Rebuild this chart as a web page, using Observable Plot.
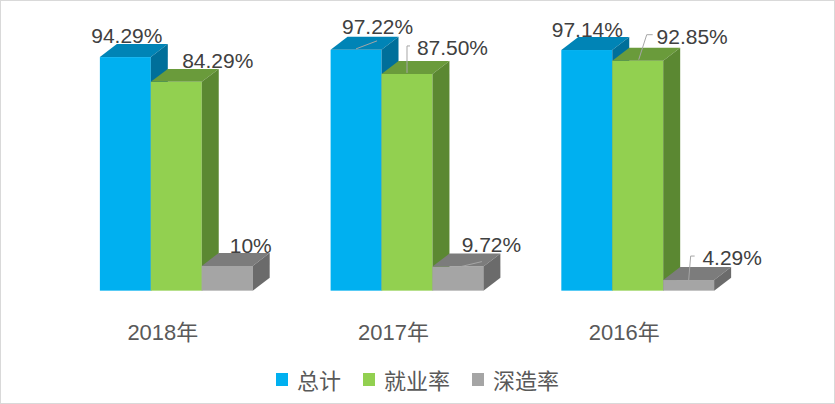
<!DOCTYPE html>
<html>
<head>
<meta charset="utf-8">
<script src="https://cdn.jsdelivr.net/npm/d3@7"></script>
<script src="https://cdn.jsdelivr.net/npm/@observablehq/plot@0.6"></script>
<style>
  html, body { margin: 0; padding: 0; background: #fff; }
  #frame { position: relative; width: 835px; height: 404px; box-sizing: border-box; border: 1px solid #d9d9d9; overflow: hidden; background: #fff; }
  #chart { position: absolute; left: -1px; top: -1px; }
  #legend { position: absolute; left: -1px; top: 365px; width: 835px; height: 26px; display: flex; justify-content: center; align-items: center; gap: 22px;
            font-family: "Noto Sans CJK SC", sans-serif; font-size: 22px; color: #595959; }
  #legend .item { display: flex; align-items: center; }
  #legend .sw { width: 12px; height: 13px; margin-right: 9px; }
</style>
</head>
<body>
<div id="frame"><div id="chart"></div><div id="legend"></div></div>
<script>
// ---- data ----
const years = ["2018年", "2017年", "2016年"];
const series = ["总计", "就业率", "深造率"];
const totalRate = [94.29, 97.22, 97.14];
const employmentRate = [84.29, 87.50, 92.85];
const furtherStudyRate = [10, 9.72, 4.29];
const labelTexts = [
  ["94.29%", "84.29%", "10%"],
  ["97.22%", "87.50%", "9.72%"],
  ["97.14%", "92.85%", "4.29%"]
];

// ---- styles / layout ----
const frontColors = ["#00b0f0", "#92d050", "#a5a5a5"];
const topColors = ["#0084b6", "#6a9b3b", "#7c7c7c"];
const sideColors = ["#006f9a", "#5b8832", "#6b6b6b"];
const depth = { dx: 17, dy: -13 };
const labelOffsets = [
  [[1, -21], [41, -21], [23, -20]],
  [[21, -23], [45, -26], [33, -22]],
  [[0, -20], [54, -24], [43, -22]]
];
const leaders = [
  { i: 1, j: 0, pts: [[0, -1], [21, -9]] },
  { i: 1, j: 1, pts: [[0, -1], [0, -28], [3, -28]] },
  { i: 1, j: 2, pts: [[3, 0], [24, -5]] },
  { i: 2, j: 1, pts: [[1, -1], [9, -26], [15, -26]] },
  { i: 2, j: 2, pts: [[0, 0], [2, -24], [6, -24]] }
];

const seriesValues = [totalRate, employmentRate, furtherStudyRate];
const rows = years.flatMap((year, i) => series.map((s, j) => ({
  year, series: s, value: seriesValues[j][i], label: labelTexts[i][j], i, j
})));

const font = "'Liberation Sans', 'Noto Sans CJK SC', sans-serif";

const chart = Plot.plot({
  width: 835,
  height: 352,
  marginTop: 43,
  marginBottom: 61,
  marginLeft: 99,
  marginRight: 119,
  style: { fontFamily: font, background: "transparent" },
  fx: { domain: years, paddingInner: 76.5 / 231.5, paddingOuter: 0, axis: null, label: null },
  x: { domain: series, paddingInner: 0, paddingOuter: 0, axis: null, label: null },
  y: { domain: [0, 100], axis: null, label: null },
  color: { domain: series, range: frontColors },
  marks: [
    Plot.barY(rows, { fx: "year", x: "series", y: "value", fill: "series" }),
    ...rows.map(d => Plot.text([d], {
      fx: "year", x: "series", y: "value", text: "label",
      dx: labelOffsets[d.i][d.j][0], dy: labelOffsets[d.i][d.j][1],
      fontSize: 21, fill: "#404040", fontFamily: font
    })),
    Plot.text(years, {
      fx: d => d, text: d => d, frameAnchor: "bottom", dx: -14, dy: 49,
      fontSize: 22, fill: "#595959", fontFamily: font
    })
  ]
});

document.getElementById("chart").append(chart);
const svg = chart.tagName.toLowerCase() === "svg" ? chart : chart.querySelector("svg");

// 3D faces: add top and side faces right after each front face
const rects = Array.from(svg.querySelectorAll('g[aria-label="bar"] rect'));
const ns = "http://www.w3.org/2000/svg";
const rectInfo = [];
rects.forEach((r, k) => {
  const x = +r.getAttribute("x"), y = +r.getAttribute("y");
  const w = +r.getAttribute("width"), h = +r.getAttribute("height");
  let j = frontColors.indexOf((r.getAttribute("fill") || "").toLowerCase());
  if (j < 0) j = k % 3;
  const { dx, dy } = depth;
  const top = document.createElementNS(ns, "polygon");
  top.setAttribute("points", [[x, y], [x + w, y], [x + w + dx, y + dy], [x + dx, y + dy]].map(p => p.join(",")).join(" "));
  top.setAttribute("fill", topColors[j]);
  const side = document.createElementNS(ns, "polygon");
  side.setAttribute("points", [[x + w, y], [x + w + dx, y + dy], [x + w + dx, y + h + dy], [x + w, y + h]].map(p => p.join(",")).join(" "));
  side.setAttribute("fill", sideColors[j]);
  r.after(top, side);
  rectInfo.push({ r, x, y, w, h, i: Math.floor(k / 3), j });
});

// leader lines
leaders.forEach(L => {
  const info = rectInfo.find(d => d.i === L.i && d.j === L.j);
  if (!info) return;
  const cx = info.x + info.w / 2, cy = info.y;
  const path = document.createElementNS(ns, "polyline");
  path.setAttribute("points", L.pts.map(([a, b]) => `${cx + a},${cy + b}`).join(" "));
  path.setAttribute("fill", "none");
  path.setAttribute("stroke", "#a6a6a6");
  path.setAttribute("stroke-width", "1");
  info.r.parentNode.appendChild(path);
});

// legend
const legend = document.getElementById("legend");
series.forEach((s, j) => {
  const item = document.createElement("div");
  item.className = "item";
  const sw = document.createElement("span");
  sw.className = "sw";
  sw.style.background = frontColors[j];
  const t = document.createElement("span");
  t.textContent = s;
  item.append(sw, t);
  legend.append(item);
});
</script>
</body>
</html>
